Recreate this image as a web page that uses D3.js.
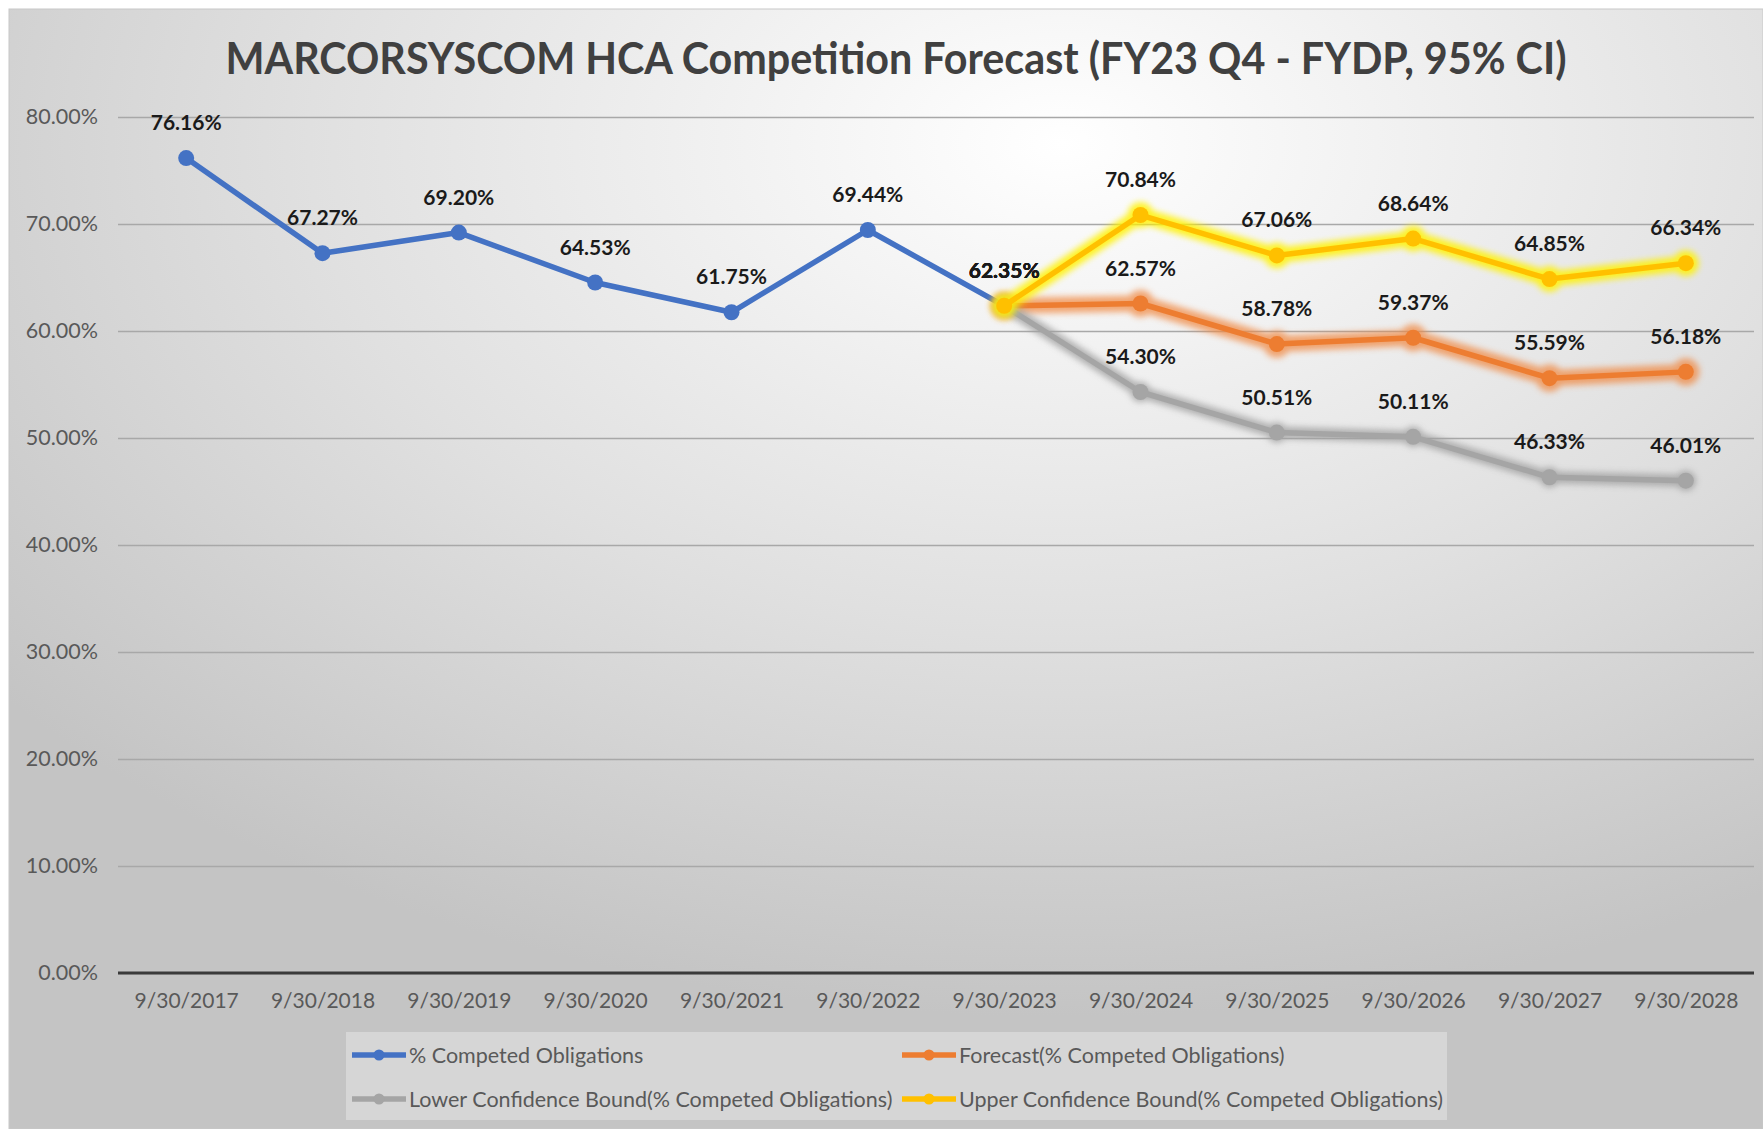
<!DOCTYPE html>
<html>
<head>
<meta charset="utf-8">
<script src="https://cdn.jsdelivr.net/npm/d3@7"></script>
<style>
  body { margin: 0; background: #fff; }
  svg { display: block; }
</style>
</head>
<body>
<div id="chart"></div>
<script>
// chart data
var dates = ['9/30/2017', '9/30/2018', '9/30/2019', '9/30/2020', '9/30/2021', '9/30/2022',
  '9/30/2023', '9/30/2024', '9/30/2025', '9/30/2026', '9/30/2027', '9/30/2028']
var competed = [76.16, 67.27, 69.20, 64.53, 61.75, 69.44, 62.35]
var forecastDates = ['9/30/2023', '9/30/2024', '9/30/2025', '9/30/2026', '9/30/2027', '9/30/2028']
var forecast = [62.35, 62.57, 58.78, 59.37, 55.59, 56.18]
var lowerBound = [62.35, 54.30, 50.51, 50.11, 46.33, 46.01]
var upperBound = [62.35, 70.84, 67.06, 68.64, 64.85, 66.34]
var yTicks = [0, 10, 20, 30, 40, 50, 60, 70, 80]

var title = 'MARCORSYSCOM HCA Competition Forecast (FY23 Q4 - FYDP, 95% CI)'

var width = 1763
var height = 1129
var margin = { top: 117, right: 9, bottom: 156, left: 118 }
var font = 'Lato, "Open Sans", sans-serif'

var series = [
  { name: '% Competed Obligations', x: dates.slice(0, competed.length), y: competed, color: '#4472C4', glow: null, glowW: 0, glowOp: 0 },
  { name: 'Forecast(% Competed Obligations)', x: forecastDates, y: forecast, color: '#ED7D31', glow: '#F08A45', glowW: 16, glowOp: 0.75 },
  { name: 'Lower Confidence Bound(% Competed Obligations)', x: forecastDates, y: lowerBound, color: '#A5A5A5', glow: '#a0a0a0', glowW: 12, glowOp: 0.8 },
  { name: 'Upper Confidence Bound(% Competed Obligations)', x: forecastDates, y: upperBound, color: '#FFC000', glow: '#FFF200', glowW: 15, glowOp: 0.85 }
]

var svg = d3.select('#chart')
  .append('svg')
  .attr('width', width)
  .attr('height', height)

var defs = svg.append('defs')

// background gradient
var bg = defs.append('radialGradient')
  .attr('id', 'bg')
  .attr('cx', 0.6).attr('cy', 0.12).attr('r', 0.78)
  .attr('gradientUnits', 'objectBoundingBox')
bg.append('stop').attr('offset', 0).attr('stop-color', '#ffffff')
bg.append('stop').attr('offset', 0.55).attr('stop-color', '#e0e0e0')
bg.append('stop').attr('offset', 1).attr('stop-color', '#c4c4c4')

defs.append('filter')
  .attr('id', 'glow')
  .attr('x', '-10%').attr('y', '-50%').attr('width', '120%').attr('height', '200%')
  .append('feGaussianBlur')
  .attr('stdDeviation', 3)

svg.append('rect')
  .attr('x', 9).attr('y', 9)
  .attr('width', width - 9).attr('height', height - 9)
  .attr('fill', 'url(#bg)')
  .attr('stroke', '#c8c8c8')
  .attr('stroke-width', 1)

// title
svg.append('text')
  .attr('x', 896)
  .attr('y', 74)
  .attr('text-anchor', 'middle')
  .attr('font-family', font)
  .attr('font-weight', 700)
  .attr('font-size', 43)
  .attr('fill', '#404040')
  .attr('textLength', 1341)
  .attr('lengthAdjust', 'spacingAndGlyphs')
  .text(title)

var x = d3.scalePoint()
  .domain(dates)
  .range([margin.left, width - margin.right])
  .padding(0.5)

var y = d3.scaleLinear()
  .domain([0, 80])
  .range([height - margin.bottom, margin.top])

// gridlines + y labels
var yAxis = svg.append('g')
  .attr('transform', 'translate(' + margin.left + ',0)')
  .call(d3.axisLeft(y)
    .tickValues(yTicks)
    .tickSize(-(width - margin.left - margin.right))
    .tickPadding(20)
    .tickFormat(function (d) { return d.toFixed(2) + '%' }))
yAxis.select('.domain').remove()
yAxis.selectAll('.tick line')
  .attr('stroke', '#a8a8a8')
  .attr('stroke-width', 1.5)
yAxis.selectAll('.tick text')
  .attr('font-family', font)
  .attr('font-size', 21.5)
  .attr('fill', '#595959')

// baseline
svg.append('line')
  .attr('x1', margin.left).attr('x2', width - margin.right)
  .attr('y1', y(0)).attr('y2', y(0))
  .attr('stroke', '#3a3a3a')
  .attr('stroke-width', 3)

// x axis labels
var xAxis = svg.append('g')
  .attr('transform', 'translate(0,' + y(0) + ')')
  .call(d3.axisBottom(x).tickSize(0).tickPadding(20))
xAxis.select('.domain').remove()
xAxis.selectAll('.tick text')
  .attr('font-family', font)
  .attr('font-size', 21)
  .attr('fill', '#595959')

var line = d3.line()
  .x(function (d) { return x(d[0]) })
  .y(function (d) { return y(d[1]) })

var plot = svg.append('g')

series.forEach(function (s) {
  var pts = s.x.map(function (d, i) { return [d, s.y[i]] })
  var g = plot.append('g')
  if (s.glow) {
    var gg = g.append('g').attr('filter', 'url(#glow)').attr('opacity', s.glowOp)
    gg.append('path')
      .attr('d', line(pts))
      .attr('fill', 'none')
      .attr('stroke', s.glow)
      .attr('stroke-width', s.glowW)
      .attr('stroke-linejoin', 'round')
    gg.selectAll('circle')
      .data(pts)
      .enter()
      .append('circle')
      .attr('cx', function (d) { return x(d[0]) })
      .attr('cy', function (d) { return y(d[1]) })
      .attr('r', s.glowW * 0.85)
      .attr('fill', s.glow)
  }
  g.append('path')
    .attr('d', line(pts))
    .attr('fill', 'none')
    .attr('stroke', s.color)
    .attr('stroke-width', 5.5)
    .attr('stroke-linejoin', 'round')
  g.selectAll('circle.mark')
    .data(pts)
    .enter()
    .append('circle')
    .attr('class', 'mark')
    .attr('cx', function (d) { return x(d[0]) })
    .attr('cy', function (d) { return y(d[1]) })
    .attr('r', 8)
    .attr('fill', s.color)
})

// data labels
series.forEach(function (s) {
  var pts = s.x.map(function (d, i) { return [d, s.y[i]] })
  plot.append('g')
    .selectAll('text')
    .data(pts)
    .enter()
    .append('text')
    .attr('x', function (d) { return x(d[0]) })
    .attr('y', function (d) { return y(d[1]) - 28 })
    .attr('text-anchor', 'middle')
    .attr('font-family', font)
    .attr('font-weight', 700)
    .attr('font-size', 21)
    .attr('fill', '#1a1a1a')
    .text(function (d) { return d[1].toFixed(2) + '%' })
})

// legend
var legend = svg.append('g')
legend.append('rect')
  .attr('x', 346).attr('y', 1032)
  .attr('width', 1101).attr('height', 88)
  .attr('fill', '#ffffff')
  .attr('opacity', 0.3)

var legendItems = legend.selectAll('g.item')
  .data(series)
  .enter()
  .append('g')
  .attr('class', 'item')
  .attr('transform', function (d, i) {
    return 'translate(' + (i % 2 === 0 ? 352 : 902) + ',' + (i < 2 ? 1055 : 1099) + ')'
  })
legendItems.append('line')
  .attr('x1', 0).attr('x2', 54)
  .attr('stroke', function (d) { return d.color })
  .attr('stroke-width', 5.5)
legendItems.append('circle')
  .attr('cx', 27).attr('r', 5.5)
  .attr('fill', function (d) { return d.color })
legendItems.append('text')
  .attr('x', 57)
  .attr('dy', '0.35em')
  .attr('font-family', font)
  .attr('font-size', 21.5)
  .attr('fill', '#595959')
  .text(function (d) { return d.name })
</script>
</body>
</html>
